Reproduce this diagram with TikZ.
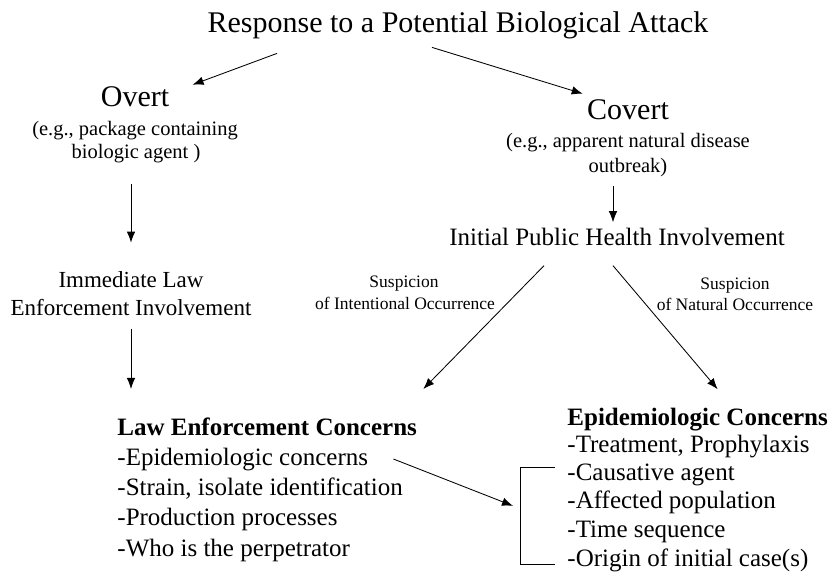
\documentclass[tikz,border=0pt]{standalone}
\usepackage{fontspec}
\setmainfont{Liberation Serif}
\usetikzlibrary{arrows.meta}

\newcommand{\bigsize}{\fontsize{30}{36}\selectfont}
\newcommand{\midsize}{\fontsize{23}{28}\selectfont}
\newcommand{\listsize}{\fontsize{25}{30}\selectfont}
\newcommand{\notesize}{\fontsize{20.5}{25}\selectfont}
\newcommand{\smallsize}{\fontsize{17.5}{22}\selectfont}

\begin{document}
\begin{tikzpicture}[x=1pt, y=-1pt, line width=0.85pt]
        \tikzstyle{every node}=[inner sep=0pt]
        \tikzstyle{bigtext}=[anchor=base, font=\bigsize]
        \tikzstyle{midtext}=[anchor=base, font=\midsize]
        \tikzstyle{notetext}=[anchor=base, font=\notesize]
        \tikzstyle{smalltext}=[anchor=base, font=\smallsize]
        \tikzstyle{headtext}=[anchor=base west, font=\listsize\bfseries]
        \tikzstyle{itemtext}=[anchor=base west, font=\listsize]
        \tikzstyle{arr}=[-{Latex[length=11pt,width=8.5pt]}]
        \useasboundingbox (0,0) rectangle (834,578);

        \node [bigtext] (title) at (458,33) {Response to a Potential Biological Attack};

        % overt branch
        \node [bigtext] (overt) at (135,106) {Overt};
        \node [notetext] (overtA) at (135,135) {(e.g., package containing};
        \node [notetext] (overtB) at (136,158) {biologic agent )};
        \node [midtext] (ilawA) at (131,287) {Immediate Law};
        \node [midtext] (ilawB) at (131,315) {Enforcement Involvement};

        % covert branch
        \node [bigtext] (covert) at (628,119) {Covert};
        \node [notetext] (covertA) at (628,147) {(e.g., apparent natural disease};
        \node [notetext] (covertB) at (628,172) {outbreak)};
        \node [midtext, font=\listsize] (iphi) at (617,245) {Initial Public Health Involvement};
        \node [smalltext] (intA) at (404,287) {Suspicion};
        \node [smalltext] (intB) at (405,309) {of Intentional Occurrence};
        \node [smalltext] (natA) at (735,289) {Suspicion};
        \node [smalltext] (natB) at (735,310) {of Natural Occurrence};

        % concerns
        \node [headtext] (law) at (117,435) {Law Enforcement Concerns};
        \node [itemtext] (law1) at (117,465) {-Epidemiologic concerns};
        \node [itemtext] (law2) at (117,495) {-Strain, isolate identification};
        \node [itemtext] (law3) at (117,525) {-Production processes};
        \node [itemtext] (law4) at (117,556) {-Who is the perpetrator};
        \node [headtext] (epi) at (567,425) {Epidemiologic Concerns};
        \node [itemtext] (epi1) at (567,452) {-Treatment, Prophylaxis};
        \node [itemtext] (epi2) at (567,480) {-Causative agent};
        \node [itemtext] (epi3) at (567,508) {-Affected population};
        \node [itemtext] (epi4) at (567,537) {-Time sequence};
        \node [itemtext] (epi5) at (567,566) {-Origin of initial case(s)};

        \draw [arr] ([shift={(-181pt,-13.5pt)}]title.south) -- ([shift={(23pt,1pt)}]overt.north east);
        \draw [arr] ([shift={(-26pt,-7.5pt)}]title.south) -- ([shift={(-4pt,5pt)}]covert.north west);
        \draw [arr, shorten <=21pt, shorten >=28pt] (ilawA.north |- overtB.south) -- (ilawA.north);
        \draw [arr, shorten <=13pt, shorten >=28pt] (ilawB.south) -- (ilawB.south |- law.north);
        \draw [arr, shorten <=9pt, shorten >=5pt] ([xshift=-4pt]iphi.north |- covertB.south) -- ([xshift=-4pt]iphi.north);
        \draw [arr] ([shift={(-73pt,-20pt)}]iphi.south) -- ([shift={(6pt,28pt)}]law.north east);
        \draw [arr] ([shift={(-4pt,-20pt)}]iphi.south) -- ([shift={(20pt,18pt)}]epi.north);
        \draw ([shift={(-12pt,7pt)}]epi2.west) -- ++(-35,0) |- ([shift={(-12pt,-5pt)}]epi5.west);
        \draw [arr] ([xshift=25pt]law1.east) -- ([shift={(-54pt,-4pt)}]epi3.west);
\end{tikzpicture}
\end{document}
